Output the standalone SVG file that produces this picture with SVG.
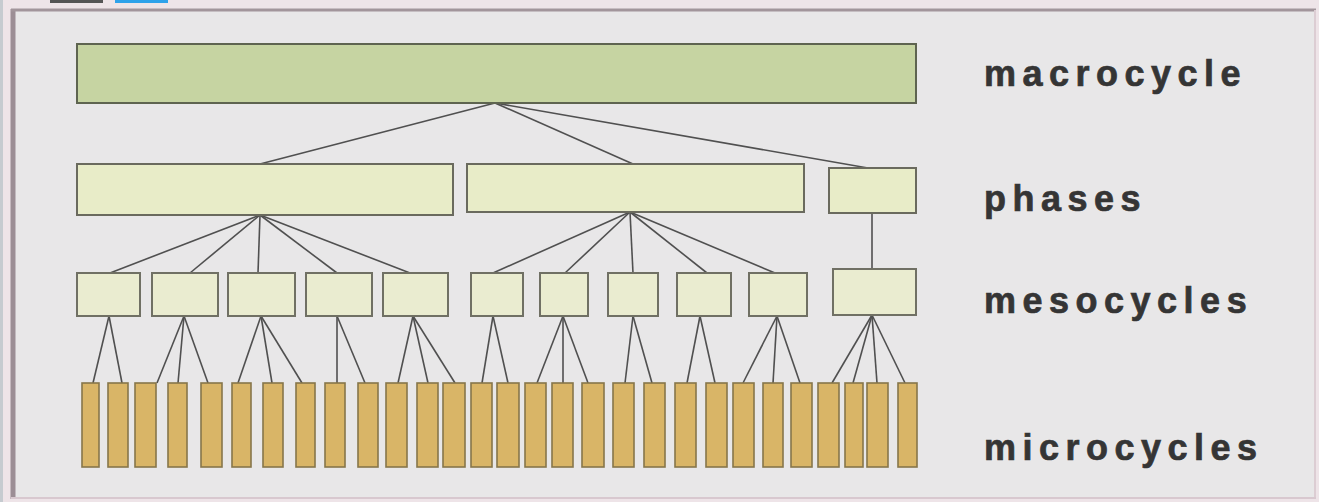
<svg xmlns="http://www.w3.org/2000/svg" width="1319" height="502" viewBox="0 0 1319 502">
<style>
.macro{fill:#c6d4a2;stroke:#5e6450;stroke-width:2}
.phase{fill:#e8ecc8;stroke:#6a6a5e;stroke-width:2}
.meso{fill:#eaecd0;stroke:#707064;stroke-width:2}
.micro{fill:#d9b567;stroke:#86764a;stroke-width:1.6}
.edges line{stroke:#505050;stroke-width:1.6}
.lbl{font-family:"Liberation Sans",Arial,sans-serif;font-weight:bold;font-size:36px;letter-spacing:6.5px;fill:#353535;stroke:#353535;stroke-width:0.7}
</style>
<rect x="0" y="0" width="1319" height="502" fill="#eee4e8"/>
<rect x="0" y="0" width="3" height="502" fill="#c6cbd0"/>
<rect x="50" y="0" width="53" height="3" fill="#555"/>
<rect x="115" y="0" width="53" height="3" fill="#2ea2ea"/>
<rect x="14" y="10" width="1300" height="488" fill="#e8e7e8"/>
<line x1="13" y1="9" x2="13" y2="499" stroke="#9c8e95" stroke-width="5"/>
<line x1="11" y1="10" x2="1316" y2="10" stroke="#a2959b" stroke-width="3"/>
<line x1="1315" y1="10" x2="1315" y2="499" stroke="#dccdd3" stroke-width="2"/>
<line x1="11" y1="498" x2="1316" y2="498" stroke="#d8c8cf" stroke-width="2"/>
<g class="edges" id="connectors">
<line x1="495" y1="103" x2="260" y2="164"/>
<line x1="495" y1="103" x2="633" y2="164"/>
<line x1="495" y1="103" x2="868" y2="168"/>
<line x1="260" y1="215" x2="110" y2="273"/>
<line x1="260" y1="215" x2="190" y2="273"/>
<line x1="260" y1="215" x2="258" y2="273"/>
<line x1="260" y1="215" x2="337" y2="273"/>
<line x1="260" y1="215" x2="410" y2="273"/>
<line x1="630" y1="212" x2="493" y2="273"/>
<line x1="630" y1="212" x2="565" y2="273"/>
<line x1="630" y1="212" x2="633" y2="273"/>
<line x1="630" y1="212" x2="707" y2="273"/>
<line x1="630" y1="212" x2="775" y2="273"/>
<line x1="872" y1="213" x2="872" y2="269"/>
<line x1="109" y1="316" x2="93" y2="383"/>
<line x1="109" y1="316" x2="122" y2="383"/>
<line x1="184" y1="316" x2="157" y2="383"/>
<line x1="184" y1="316" x2="178" y2="383"/>
<line x1="184" y1="316" x2="208" y2="383"/>
<line x1="261" y1="316" x2="238" y2="383"/>
<line x1="261" y1="316" x2="272" y2="383"/>
<line x1="261" y1="316" x2="302" y2="383"/>
<line x1="337" y1="316" x2="337" y2="383"/>
<line x1="337" y1="316" x2="365" y2="383"/>
<line x1="413" y1="316" x2="398" y2="383"/>
<line x1="413" y1="316" x2="428" y2="383"/>
<line x1="413" y1="316" x2="455" y2="383"/>
<line x1="493" y1="316" x2="482" y2="383"/>
<line x1="493" y1="316" x2="508" y2="383"/>
<line x1="563" y1="316" x2="537" y2="383"/>
<line x1="563" y1="316" x2="563" y2="383"/>
<line x1="563" y1="316" x2="588" y2="383"/>
<line x1="633" y1="316" x2="625" y2="383"/>
<line x1="633" y1="316" x2="652" y2="383"/>
<line x1="700" y1="316" x2="687" y2="383"/>
<line x1="700" y1="316" x2="715" y2="383"/>
<line x1="777" y1="316" x2="743" y2="383"/>
<line x1="777" y1="316" x2="773" y2="383"/>
<line x1="777" y1="316" x2="800" y2="383"/>
<line x1="872" y1="315" x2="832" y2="383"/>
<line x1="872" y1="315" x2="853" y2="383"/>
<line x1="872" y1="315" x2="877" y2="383"/>
<line x1="872" y1="315" x2="905" y2="383"/>
</g>
<g id="macrocycle"><rect class="macro" x="77" y="44" width="839" height="59"/></g>
<g id="phase1"><rect class="phase" x="77" y="164" width="376" height="51"/></g>
<g id="phase2"><rect class="phase" x="467" y="164" width="337" height="48"/></g>
<g id="phase3"><rect class="phase" x="829" y="168" width="87" height="45"/></g>
<g id="meso1"><rect class="meso" x="77" y="273" width="63" height="43"/></g>
<g id="meso2"><rect class="meso" x="152" y="273" width="66" height="43"/></g>
<g id="meso3"><rect class="meso" x="228" y="273" width="67" height="43"/></g>
<g id="meso4"><rect class="meso" x="306" y="273" width="66" height="43"/></g>
<g id="meso5"><rect class="meso" x="383" y="273" width="65" height="43"/></g>
<g id="meso6"><rect class="meso" x="471" y="273" width="52" height="43"/></g>
<g id="meso7"><rect class="meso" x="540" y="273" width="48" height="43"/></g>
<g id="meso8"><rect class="meso" x="608" y="273" width="50" height="43"/></g>
<g id="meso9"><rect class="meso" x="677" y="273" width="54" height="43"/></g>
<g id="meso10"><rect class="meso" x="749" y="273" width="58" height="43"/></g>
<g id="meso11"><rect class="meso" x="833" y="269" width="83" height="46"/></g>
<g id="micro">
<rect class="micro" x="82" y="383" width="17" height="84"/>
<rect class="micro" x="108" y="383" width="20" height="84"/>
<rect class="micro" x="135" y="383" width="21" height="84"/>
<rect class="micro" x="168" y="383" width="19" height="84"/>
<rect class="micro" x="201" y="383" width="21" height="84"/>
<rect class="micro" x="232" y="383" width="19" height="84"/>
<rect class="micro" x="263" y="383" width="20" height="84"/>
<rect class="micro" x="296" y="383" width="19" height="84"/>
<rect class="micro" x="325" y="383" width="20" height="84"/>
<rect class="micro" x="358" y="383" width="20" height="84"/>
<rect class="micro" x="386" y="383" width="21" height="84"/>
<rect class="micro" x="417" y="383" width="21" height="84"/>
<rect class="micro" x="443" y="383" width="22" height="84"/>
<rect class="micro" x="471" y="383" width="21" height="84"/>
<rect class="micro" x="497" y="383" width="22" height="84"/>
<rect class="micro" x="525" y="383" width="21" height="84"/>
<rect class="micro" x="552" y="383" width="21" height="84"/>
<rect class="micro" x="582" y="383" width="22" height="84"/>
<rect class="micro" x="613" y="383" width="21" height="84"/>
<rect class="micro" x="644" y="383" width="21" height="84"/>
<rect class="micro" x="675" y="383" width="21" height="84"/>
<rect class="micro" x="706" y="383" width="21" height="84"/>
<rect class="micro" x="733" y="383" width="21" height="84"/>
<rect class="micro" x="763" y="383" width="20" height="84"/>
<rect class="micro" x="791" y="383" width="21" height="84"/>
<rect class="micro" x="818" y="383" width="21" height="84"/>
<rect class="micro" x="845" y="383" width="18" height="84"/>
<rect class="micro" x="867" y="383" width="21" height="84"/>
<rect class="micro" x="898" y="383" width="19" height="84"/>
</g>
<g id="labels">
<text class="lbl" x="984" y="86">macrocycle</text>
<text class="lbl" x="984" y="211">phases</text>
<text class="lbl" x="984" y="313">mesocycles</text>
<text class="lbl" x="984" y="460">microcycles</text>
</g>
</svg>
